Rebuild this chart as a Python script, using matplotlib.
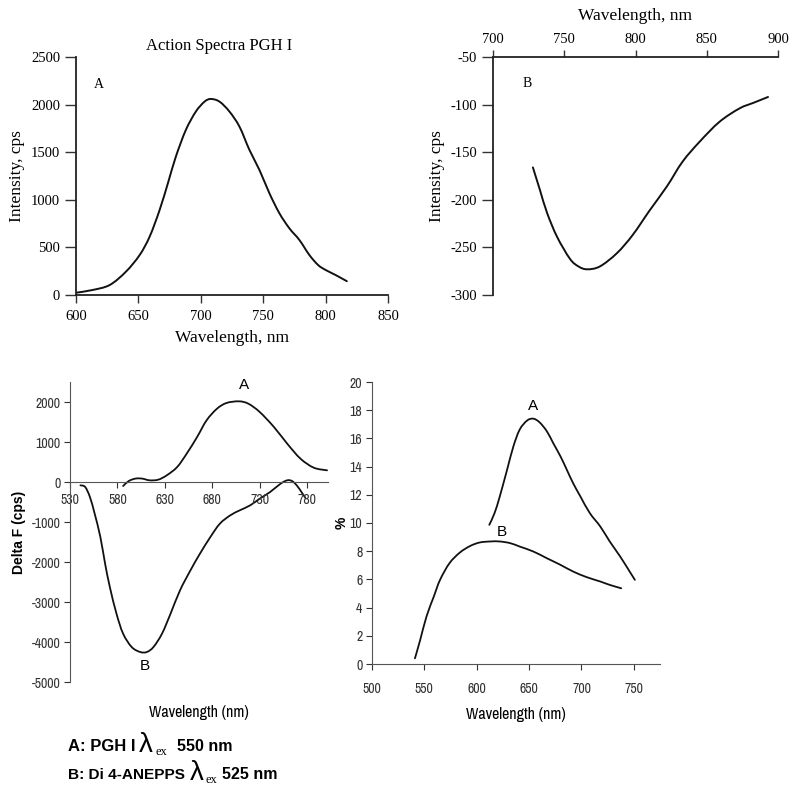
import matplotlib
matplotlib.use("Agg")
import numpy as np
import matplotlib.pyplot as plt
from matplotlib import font_manager
from matplotlib.font_manager import FontProperties
from matplotlib.path import Path
from matplotlib.patches import PathPatch

plt.rcParams["axes.unicode_minus"] = False

# fonts: serif for the top panels, a narrow sans for the bottom ones if one exists
serif = "Liberation Serif"
sans = "Liberation Sans"


def find_narrow():
    best, best_rank = None, 99
    for f in font_manager.fontManager.ttflist:
        if f.style != "normal":
            continue
        w = f.weight if isinstance(f.weight, int) else (700 if f.weight == "bold" else 400)
        if w >= 600:
            continue
        if "Narrow" in f.name:
            rank = 0
        elif f.name == "Roboto Condensed":
            rank = 1
        elif "Condensed" in f.name:
            rank = 2
        elif f.stretch in ("condensed", "semi-condensed"):
            rank = 3
        else:
            continue
        if rank < best_rank:
            best, best_rank = f.fname, rank
    return best


narrow_file = find_narrow()


def narrow_font(size):
    if narrow_file:
        return FontProperties(fname=narrow_file, size=size)
    return FontProperties(family=sans, size=size - 1)


# top left: action spectra PGH I
wl_top_a = [600, 613, 627, 640, 651, 659, 667, 674, 680, 688, 696, 703, 708, 715,
            723, 731, 739, 747, 755, 763, 771, 779, 787, 794, 800, 808, 817]
int_top_a = [24, 52, 105, 245, 420, 613, 893, 1190, 1453, 1733, 1926, 2031, 2059, 2031,
             1926, 1768, 1523, 1313, 1068, 858, 700, 578, 420, 315, 263, 210, 145]

# top right: B
wl_top_b = [728, 733, 738, 745, 754, 760, 766, 775, 787, 798, 810, 822, 833, 845,
            859, 873, 883, 893]
int_top_b = [-166, -190, -214, -239, -262, -270, -273, -270, -256, -237, -211, -186,
             -160, -139, -118, -104, -98, -92]

# bottom left: delta F
wl_df_a = [586, 592, 599, 606, 614, 623, 632, 643, 653, 664, 674, 685, 695, 708,
           718, 730, 745, 759, 773, 787, 801]
df_a = [-100, 25, 85, 85, 42, 58, 167, 375, 708, 1125, 1542, 1833, 1975, 2017,
        1958, 1750, 1375, 958, 583, 358, 292]
wl_df_b = [541, 546, 551, 556, 562, 567, 572, 579, 586, 595, 604, 611, 618, 627,
           636, 646, 657, 667, 678, 688, 699, 709, 720, 730, 741, 752, 759, 764,
           769, 774, 778]
df_b = [-83, -125, -375, -792, -1375, -2042, -2625, -3292, -3792, -4125, -4250,
        -4250, -4125, -3792, -3292, -2708, -2208, -1792, -1375, -1042, -833, -708,
        -583, -417, -250, -42, 42, 25, -83, -250, -392]

# bottom right: %
wl_pc_a = [612, 617, 622, 629, 635, 641, 648, 654, 660, 667, 673, 680, 686, 692,
           699, 708, 718, 727, 737, 746, 751]
pc_a = [9.87, 10.70, 11.88, 13.78, 15.43, 16.62, 17.26, 17.40, 17.14, 16.50, 15.67,
        14.72, 13.78, 12.83, 11.88, 10.70, 9.75, 8.69, 7.62, 6.56, 5.97]
wl_pc_b = [541, 546, 552, 559, 565, 574, 584, 594, 603, 613, 622, 632, 641, 654,
           667, 680, 692, 705, 718, 727, 738]
pc_b = [0.40, 1.70, 3.36, 4.78, 5.97, 7.15, 7.91, 8.38, 8.62, 8.69, 8.69, 8.57, 8.33,
        7.98, 7.50, 7.03, 6.56, 6.16, 5.85, 5.61, 5.37]

W, H = 795, 788
fig = plt.figure(figsize=(W / 100, H / 100), dpi=100)


def box(x0, y0, x1, y1):
    return [x0 / W, 1 - y1 / H, (x1 - x0) / W, (y1 - y0) / H]


# smoothed line through the points (like a spreadsheet "smoothed line")
def smooth_line(ax, x, y, lw=1.3, color="#111111"):
    p = np.column_stack([x, y]).astype(float)
    n = len(p)
    verts = [p[0]]
    codes = [Path.MOVETO]
    for i in range(n - 1):
        p0 = p[i - 1] if i > 0 else p[i]
        p1 = p[i]
        p2 = p[i + 1]
        p3 = p[i + 2] if i + 2 < n else p[i + 1]
        verts += [p1 + (p2 - p0) / 6, p2 - (p3 - p1) / 6, p2]
        codes += [Path.CURVE4] * 3
    ax.add_patch(PathPatch(Path(verts, codes), fill=False, lw=lw, edgecolor=color,
                           capstyle="round", joinstyle="round"))


# ---- top left
ax1 = fig.add_axes(box(76, 57, 388, 295))
smooth_line(ax1, wl_top_a, int_top_a, lw=1.4)
ax1.set_xlim(600, 850)
ax1.set_ylim(0, 2500)
ax1.set_xticks(range(600, 851, 50))
ax1.set_yticks(range(0, 2501, 500))
for s in ["top", "right"]:
    ax1.spines[s].set_visible(False)
ax1.set_title("Action Spectra PGH I", family=serif, fontsize=12, pad=5, x=0.46)
ax1.set_xlabel("Wavelength, nm", family=serif, fontsize=12.5, labelpad=5)
ax1.set_ylabel("Intensity, cps", family=serif, fontsize=12.5, labelpad=4)
ax1.text(618, 2216, "A", family=serif, fontsize=10, ha="center", va="center")
ax1.tick_params(axis="y", length=8)
ax1.tick_params(axis="x", length=6, pad=5)

# ---- top right
ax2 = fig.add_axes(box(493, 57, 778, 295))
smooth_line(ax2, wl_top_b, int_top_b, lw=1.4)
ax2.set_xlim(700, 900)
ax2.set_ylim(-300, -50)
ax2.set_xticks(range(700, 901, 50))
ax2.set_yticks(range(-300, -49, 50))
ax2.xaxis.tick_top()
ax2.xaxis.set_label_position("top")
for s in ["bottom", "right"]:
    ax2.spines[s].set_visible(False)
ax2.set_xlabel("Wavelength, nm", family=serif, fontsize=12.5, labelpad=9)
ax2.set_ylabel("Intensity, cps", family=serif, fontsize=12.5, labelpad=4)
ax2.text(724, -78, "B", family=serif, fontsize=10, ha="center", va="center")
ax2.tick_params(axis="y", length=8)
ax2.tick_params(axis="x", length=5, pad=3)

for ax in (ax1, ax2):
    ax.tick_params(width=1, labelsize=10.5, color="#333333")
    for lab in ax.get_xticklabels() + ax.get_yticklabels():
        lab.set_family(serif)
    for s in ax.spines.values():
        s.set_linewidth(1.3)
        s.set_color("#222222")

# ---- bottom left
ax3 = fig.add_axes(box(70, 382, 328, 682))
smooth_line(ax3, wl_df_a, df_a)
smooth_line(ax3, wl_df_b, df_b)
ax3.set_xlim(530, 802)
ax3.set_ylim(-5000, 2500)
ax3.set_xticks(range(530, 781, 50))
ax3.set_yticks(range(-5000, 2001, 1000))
ax3.spines["bottom"].set_position(("data", 0))
for s in ["top", "right"]:
    ax3.spines[s].set_visible(False)
ax3.set_ylabel("Delta F (cps)", family=sans, fontweight="bold", fontsize=10)
ax3.yaxis.set_label_coords(-0.172, 0.5)
ax3.text(713, 2420, "A", family=sans, fontsize=11, ha="center", va="center")
ax3.text(609, -4590, "B", family=sans, fontsize=11, ha="center", va="center")
fig.text(199 / W, 1 - 712 / H, "Wavelength (nm)", fontproperties=narrow_font(11.5),
         ha="center", va="center")

# ---- bottom right
ax4 = fig.add_axes(box(372, 382, 660, 664))
smooth_line(ax4, wl_pc_a, pc_a)
smooth_line(ax4, wl_pc_b, pc_b)
ax4.set_xlim(500, 775)
ax4.set_ylim(0, 20)
ax4.set_xticks(range(500, 751, 50))
ax4.set_yticks(range(0, 21, 2))
for s in ["top", "right"]:
    ax4.spines[s].set_visible(False)
ax4.set_ylabel("%", family=sans, fontweight="bold", fontsize=10)
ax4.yaxis.set_label_coords(-0.08, 0.5)
ax4.text(653.6, 18.3, "A", family=sans, fontsize=11, ha="center", va="center")
ax4.text(623.7, 9.35, "B", family=sans, fontsize=11, ha="center", va="center")
fig.text(516 / W, 1 - 715 / H, "Wavelength (nm)", fontproperties=narrow_font(11.5),
         ha="center", va="center")

for ax in (ax3, ax4):
    ax.tick_params(length=4, width=0.8, colors="#333333", pad=3)
    for lab in ax.get_xticklabels() + ax.get_yticklabels():
        lab.set_fontproperties(narrow_font(10))
    for s in ax.spines.values():
        s.set_linewidth(0.8)
        s.set_color("#555555")
ax3.tick_params(axis="x", pad=4)
ax4.tick_params(axis="x", pad=9)

# ---- caption below the bottom left panel
sub = dict(family=serif, fontsize=9, va="baseline")
lam = dict(family=sans, fontsize=20, va="baseline")
fig.text(68 / W, 1 - 751 / H, "A: PGH I", family=sans, fontweight="bold", fontsize=12, va="baseline")
fig.text(139 / W, 1 - 752 / H, "\u03bb", **lam)
fig.text(156 / W, 1 - 755 / H, "ex", **sub)
fig.text(177 / W, 1 - 751 / H, "550 nm", family=sans, fontweight="bold", fontsize=11.5, va="baseline")
fig.text(68 / W, 1 - 779 / H, "B: Di 4-ANEPPS", family=sans, fontweight="bold", fontsize=11.1, va="baseline")
fig.text(190 / W, 1 - 780 / H, "\u03bb", **lam)
fig.text(206 / W, 1 - 783 / H, "ex", **sub)
fig.text(222 / W, 1 - 779 / H, "525 nm", family=sans, fontweight="bold", fontsize=11.5, va="baseline")

fig.savefig("out.png", dpi=100)
